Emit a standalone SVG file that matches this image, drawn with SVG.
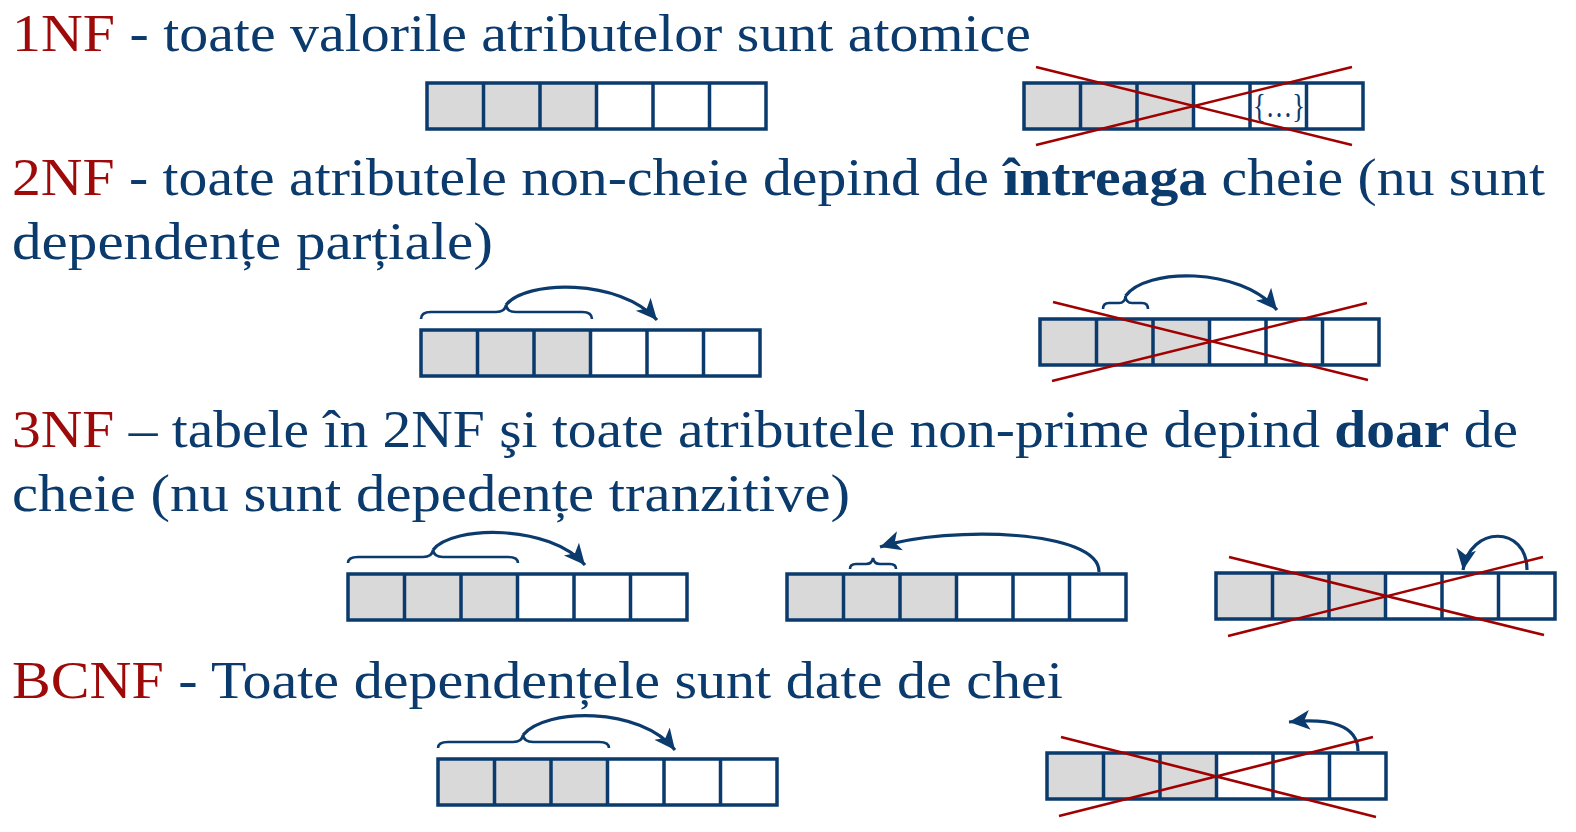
<svg xmlns="http://www.w3.org/2000/svg" xmlns:xlink="http://www.w3.org/1999/xlink" width="1576" height="832" viewBox="0 0 1576 832">
<style>
  .t { font-family: "Liberation Serif", "Times New Roman", serif; font-size: 53px; fill: #0b3a6c; }
  .r { fill: #9e0a0a; }
  .b { font-weight: bold; }
  .cell { fill: none; stroke: #0b3a6c; stroke-width: 3.5; }
  .gray { fill: #d9d9d9; }
  .brace { fill: none; stroke: #0b3a6c; stroke-width: 2.6; }
  .arr { fill: none; stroke: #0b3a6c; stroke-width: 3.2; marker-end: url(#ah); }
  .x { stroke: #a00000; stroke-width: 2.6; }
</style>
<defs>
  <marker id="ah" markerUnits="userSpaceOnUse" markerWidth="22" markerHeight="22" viewBox="0 0 20 20" refX="19" refY="10" orient="auto">
    <path d="M0,1 L19,10 L0,19 L5,10 Z" fill="#0b3a6c"/>
  </marker>
  <g id="tbl">
    <rect x="0" y="0" width="169.5" height="46" class="gray"/>
    <rect x="0" y="0" width="339" height="46" class="cell"/>
    <path d="M56.5,0 V46 M113,0 V46 M169.5,0 V46 M226,0 V46 M282.5,0 V46" class="cell"/>
  </g>
</defs>
<rect width="1576" height="832" fill="#ffffff"/>

<g id="texts">
  <text class="t" x="12" y="51" textLength="1019" lengthAdjust="spacingAndGlyphs"><tspan class="r">1NF</tspan> - toate valorile atributelor sunt atomice</text>
  <text class="t" x="12" y="195" textLength="1533" lengthAdjust="spacingAndGlyphs"><tspan class="r">2NF</tspan> - toate atributele non-cheie depind de <tspan class="b">întreaga</tspan> cheie (nu sunt</text>
  <text class="t" x="12" y="259" textLength="481" lengthAdjust="spacingAndGlyphs">dependențe parțiale)</text>
  <text class="t" x="12" y="447" textLength="1506" lengthAdjust="spacingAndGlyphs"><tspan class="r">3NF</tspan> – tabele în 2NF şi toate atributele non-prime depind <tspan class="b">doar</tspan> de</text>
  <text class="t" x="12" y="511" textLength="838" lengthAdjust="spacingAndGlyphs">cheie (nu sunt depedențe tranzitive)</text>
  <text class="t" x="12" y="698" textLength="1051" lengthAdjust="spacingAndGlyphs"><tspan class="r">BCNF</tspan> - Toate dependențele sunt date de chei</text>
</g>

<g id="nf1-good"><use xlink:href="#tbl" x="427" y="83"/></g>
<g id="nf1-bad">
  <use xlink:href="#tbl" x="1024" y="83"/>
  <text x="1279" y="117" text-anchor="middle" style="font-family:'Liberation Serif',serif;font-size:34px;fill:#0b3a6c" textLength="52" lengthAdjust="spacingAndGlyphs">{…}</text>
</g>
<g id="nf2-good">
  <use xlink:href="#tbl" x="421" y="330"/>
  <path class="brace" d="M421,319 Q421,312 431,312 L496,312 Q505,312 506,305 Q507,312 516,312 L582,312 Q592,312 592,319"/>
</g>
<g id="nf2-bad">
  <use xlink:href="#tbl" x="1040" y="319"/>
  <path class="brace" d="M1103,309 Q1103,303 1109,303 L1119,303 Q1125,303 1125.5,296 Q1126,303 1132,303 L1142,303 Q1148,303 1148,309"/>
</g>
<g id="nf3-good">
  <use xlink:href="#tbl" x="348" y="574"/>
  <path class="brace" d="M348,563 Q348,557 358,557 L423,557 Q432,557 433,550 Q434,557 443,557 L508,557 Q518,557 518,563"/>
</g>
<g id="nf3-good2">
  <use xlink:href="#tbl" x="787" y="574"/>
  <path class="brace" d="M850,569 Q850,564 856,564 L866,564 Q872,564 873,558 Q874,564 880,564 L890,564 Q896,564 896,569"/>
</g>
<g id="nf3-bad"><use xlink:href="#tbl" x="1216" y="573"/></g>
<g id="bcnf-good">
  <use xlink:href="#tbl" x="438" y="759"/>
  <path class="brace" d="M438,748 Q438,742 448,742 L513,742 Q522,742 523,735 Q524,742 533,742 L599,742 Q609,742 609,748"/>
</g>
<g id="bcnf-bad"><use xlink:href="#tbl" x="1047" y="753"/></g>

<g id="connectors">
  <path class="arr" d="M506,305 C525,280 620,278 657,320"/>
  <path class="arr" d="M1125.5,296 C1145,268 1240,266 1277,310"/>
  <path class="arr" d="M433,550 C452,525 550,524 585,565"/>
  <path class="arr" d="M1099,572 C1100,530 950,525 880,547"/>
  <path class="arr" d="M1527,570 C1527,525 1470,525 1463,570"/>
  <path class="arr" d="M523,735 C545,708 640,706 675,750"/>
  <path class="arr" d="M1358,751 C1358,725 1330,718 1289,722"/>
</g>

<g id="crosses">
  <path class="x" d="M1036,67 L1352,145 M1036,145 L1352,67"/>
  <path class="x" d="M1053,302 L1368,380 M1052,381 L1367,303"/>
  <path class="x" d="M1229,557 L1544,635 M1228,636 L1543,557"/>
  <path class="x" d="M1061,737 L1376,817 M1059,816 L1373,737"/>
</g>
</svg>
